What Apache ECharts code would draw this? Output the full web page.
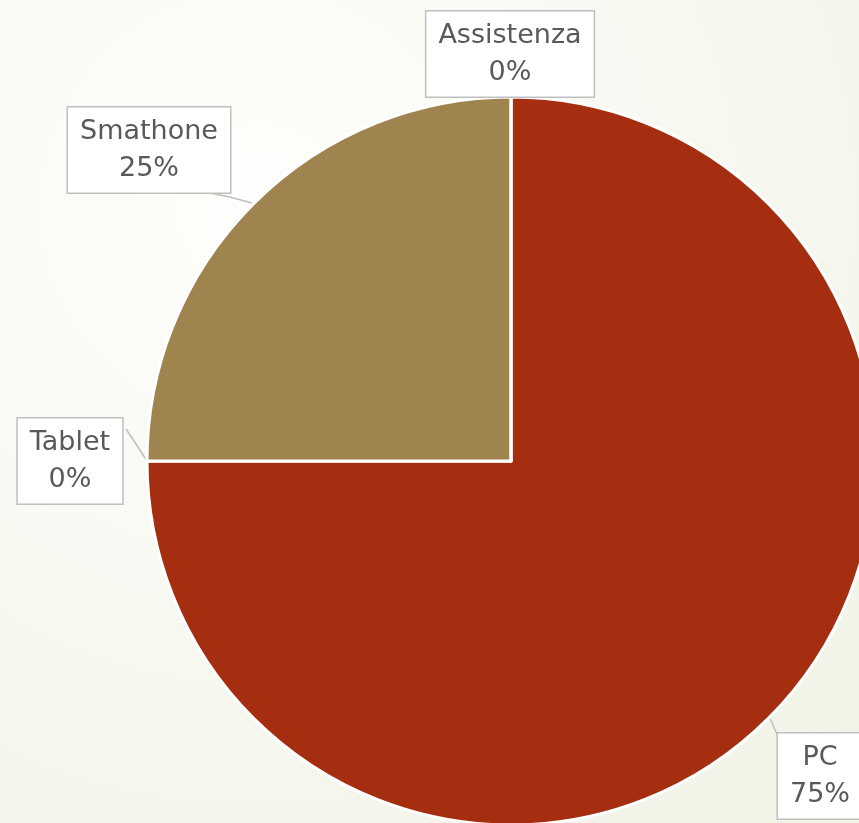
<!DOCTYPE html>
<html><head><meta charset="utf-8">
<script src="https://cdn.jsdelivr.net/npm/echarts@6/dist/echarts.min.js"></script>
<style>html,body{margin:0;padding:0;}#c{width:859px;height:823px;}</style>
</head><body><div id="c"></div>
<script>
const categories = ['PC', 'Tablet', 'Smathone', 'Assistenza'];
const values = [75, 0, 25, 0];
const colors = ['#a52e10', '#a0844f', '#a0844f', '#a52e10'];
const labelCenters = [[820, 776], [70, 461], [149, 150], [510, 54]];
const leaderPoints = [
  [[770, 718], [776, 732], [782, 745]],
  [[147, 461], [136, 444], [126, 429]],
  [[252, 203], [230, 197], [210, 193]],
  null
];

const chart = echarts.init(document.getElementById('c'));
chart.setOption({
  backgroundColor: new echarts.graphic.RadialGradient(0.3, 0.25, 1.0, [
    {offset: 0, color: '#fefefc'}, {offset: 1, color: '#f1f3e6'}
  ]),
  series: [{
    type: 'pie',
    center: [511, 461],
    radius: 364,
    startAngle: 90,
    clockwise: true,
    avoidLabelOverlap: false,
    data: categories.map((c, i) => ({name: c, value: values[i], itemStyle: {color: colors[i]}})),
    itemStyle: {borderColor: '#ffffff', borderWidth: 3},
    label: {
      show: true,
      position: 'outside',
      formatter: '{b}\n{d}%',
      fontFamily: 'DejaVu Sans',
      fontSize: 27,
      lineHeight: 37,
      color: '#595959',
      backgroundColor: '#ffffff',
      borderColor: '#bfbfbf',
      borderWidth: 1.5,
      padding: [6, 12, 5, 12]
    },
    labelLine: {show: true, lineStyle: {color: '#bfbfbf', width: 1.5}, length: 10, length2: 10},
    labelLayout: function (p) {
      const c = labelCenters[p.dataIndex];
      const r = {x: c[0], y: c[1], align: 'center', verticalAlign: 'middle'};
      if (leaderPoints[p.dataIndex]) r.labelLinePoints = leaderPoints[p.dataIndex];
      return r;
    },
    emphasis: {disabled: true}
  }]
});
</script></body></html>
